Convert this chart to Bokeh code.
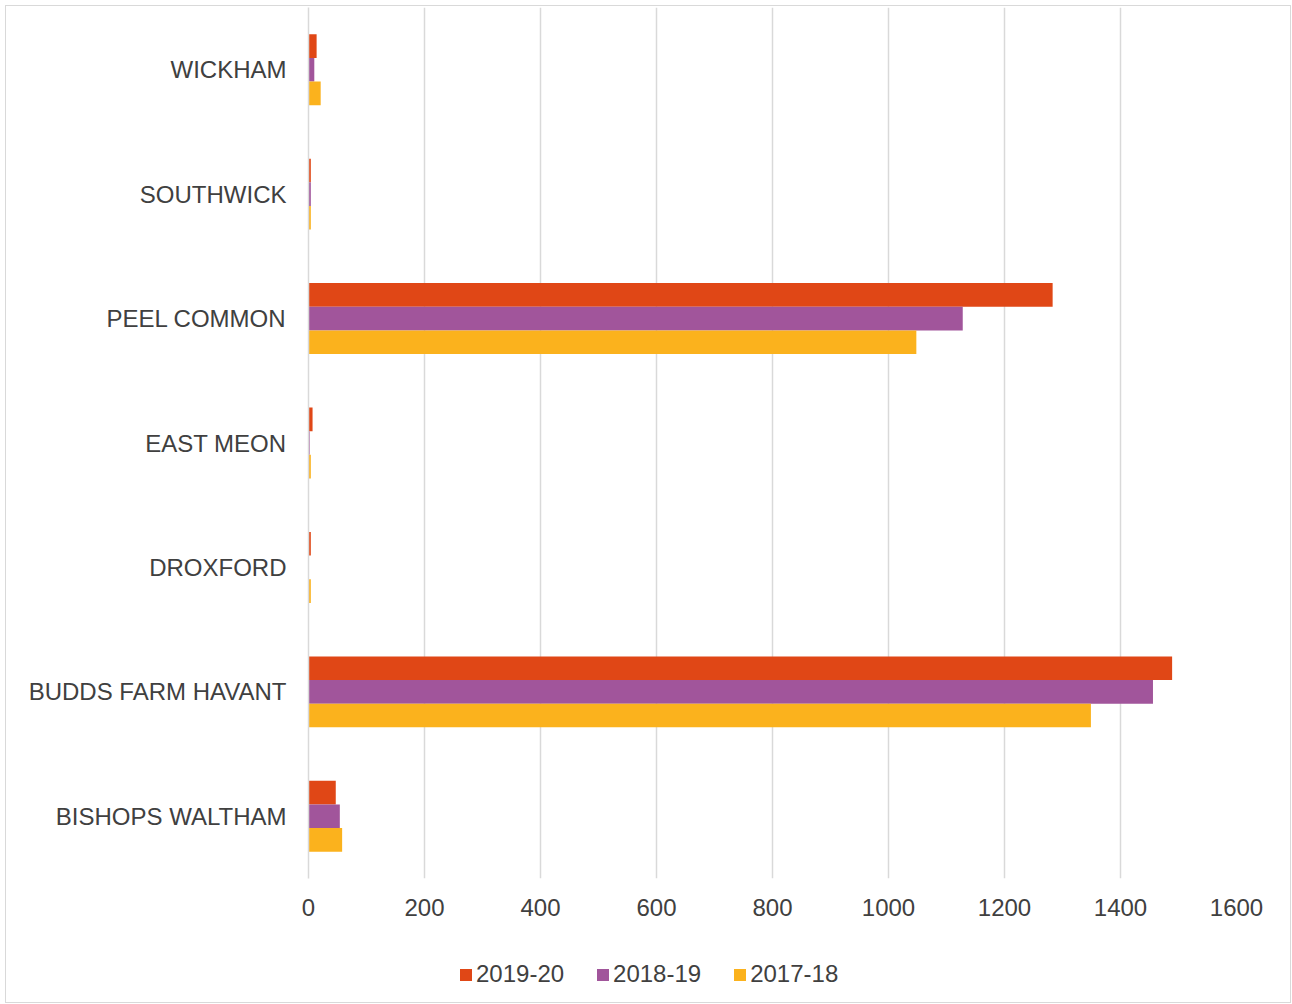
from bokeh.plotting import figure
from bokeh.layouts import column
from bokeh.models import FactorRange, ColumnDataSource, Legend, LegendItem, FixedTicker
from bokeh.transform import dodge
from bokeh.embed import file_html
from bokeh.resources import INLINE

sites = ["WICKHAM", "SOUTHWICK", "PEEL COMMON", "EAST MEON", "DROXFORD",
         "BUDDS FARM HAVANT", "BISHOPS WALTHAM"]
v_2019_20 = [14, 4, 1283, 7, 4, 1489, 47]
v_2018_19 = [10, 4, 1128, 2, 0, 1456, 54]
v_2017_18 = [21, 4, 1048, 4, 4, 1349, 58]
series = ["2019-20", "2018-19", "2017-18"]
colors = ["#E04716", "#A1559B", "#FBB21D"]
x_ticks = [0, 200, 400, 600, 800, 1000, 1200, 1400, 1600]

src = ColumnDataSource(dict(site=sites, a=v_2019_20, b=v_2018_19, c=v_2017_18))

FONT = "Liberation Sans"
TXT = "#404040"

p = figure(width=1284, height=940, y_range=FactorRange(*reversed(sites)),
           x_range=(0, 1600), output_backend="svg", toolbar_location=None,
           min_border_left=302, min_border_right=54, min_border_top=1,
           min_border_bottom=68)
p.y_range.range_padding = 0
p.outline_line_color = None
p.background_fill_color = "white"

bh = 0.19
offs = [bh, 0.0, -bh]
for col, off, c in zip(["a", "b", "c"], offs, colors):
    p.hbar(y=dodge("site", off, range=p.y_range), right=col, left=0,
           height=bh, source=src, fill_color=c, line_color=None)

p.xaxis.ticker = FixedTicker(ticks=x_ticks)
p.xgrid.ticker = FixedTicker(ticks=x_ticks)
p.xgrid.grid_line_color = "#d9d9d9"
p.xgrid.grid_line_width = 1.5
p.ygrid.grid_line_color = None

p.xaxis.axis_line_color = None
p.xaxis.major_tick_line_color = None
p.xaxis.minor_tick_line_color = None
p.xaxis.major_label_text_font = FONT
p.xaxis.major_label_text_font_size = "24px"
p.xaxis.major_label_text_color = TXT
p.xaxis.major_label_standoff = 14

p.yaxis.axis_line_color = "#d9d9d9"
p.yaxis.axis_line_width = 1.5
p.yaxis.major_tick_line_color = None
p.yaxis.minor_tick_line_color = None
p.yaxis.major_label_text_font = FONT
p.yaxis.major_label_text_font_size = "24px"
p.yaxis.major_label_text_color = TXT
p.yaxis.major_label_standoff = 16

# legend panel below the chart (frames are aligned by the column layout)
p2 = figure(width=1284, height=56, x_range=(0, 1), y_range=(0, 1),
            x_axis_type=None, y_axis_type=None, output_backend="svg",
            toolbar_location=None, min_border=0)
p2.outline_line_color = None
p2.grid.grid_line_color = None
offscreen = ColumnDataSource(dict(y=[5], right=[0]))
leg_r = [p2.hbar(y="y", right="right", left=0, height=0.1, source=offscreen,
                 fill_color=c, line_color=None) for c in colors]
legend = Legend(items=[LegendItem(label=s, renderers=[r]) for s, r in zip(series, leg_r)],
                orientation="horizontal", location=(150, 14),
                label_text_font=FONT, label_text_font_size="24px",
                label_text_color=TXT, glyph_width=15, glyph_height=15,
                label_standoff=3, spacing=31, padding=0, margin=0,
                border_line_color=None, background_fill_alpha=0)
p2.add_layout(legend, "center")

layout = column(p, p2, spacing=0)
layout.styles = {"margin": "5px", "border": "1px solid #d9d9d9"}

open("out.html", "w").write(file_html(layout, INLINE))
